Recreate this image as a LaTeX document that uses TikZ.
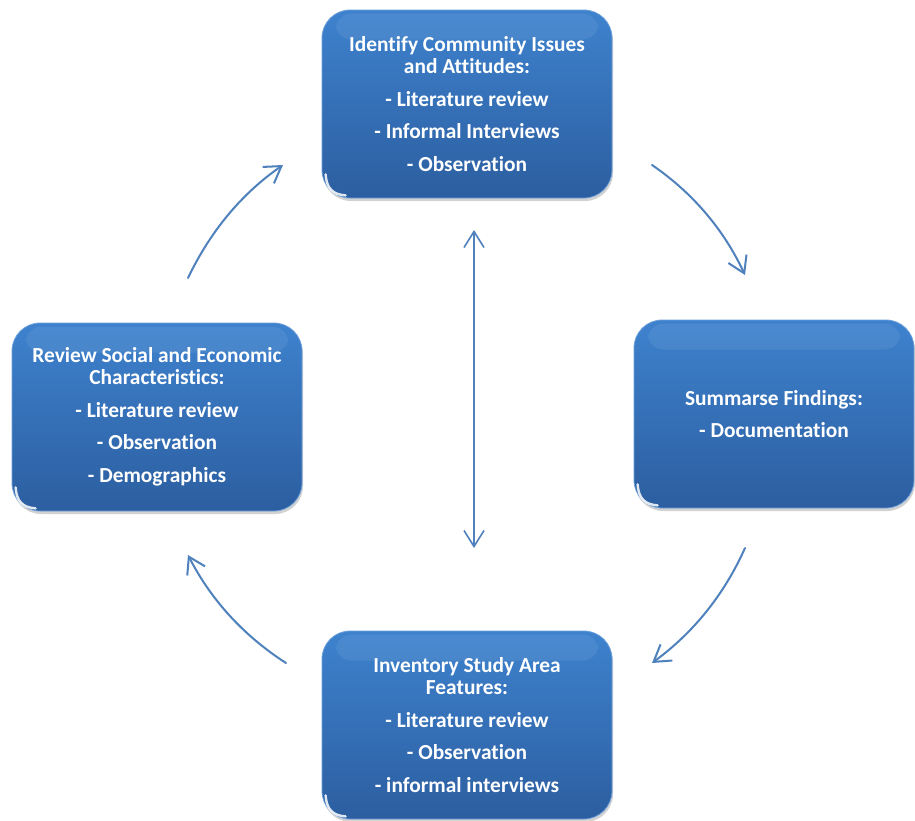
\documentclass[tikz,border=0pt]{standalone}
\usepackage{fontspec}
\setmainfont[Ligatures={NoCommon}]{Carlito}
\usetikzlibrary{arrows.meta,shadows,calc}
\definecolor{boxtop}{RGB}{62,130,206}
\definecolor{boxbot}{RGB}{44,94,160}
\definecolor{boxedge}{RGB}{110,160,220}
\definecolor{arrowblue}{RGB}{79,129,189}
\begin{document}
\begin{tikzpicture}[x=1pt,y=-1pt,
  stage/.style={rounded corners=28pt, minimum width=290pt, minimum height=188pt,
    top color=boxtop, bottom color=boxbot, draw=boxedge, line width=0.8pt,
    text=white, align=center, inner sep=0pt,
    font=\bfseries\fontsize{21.4}{22}\selectfont,
    drop shadow={opacity=0.35, shadow xshift=1pt, shadow yshift=-3pt}},
  shine/.style={white, opacity=0.07, rounded corners=16pt},
  glint/.style={white, opacity=0.85, line width=2.4pt, line cap=round},
  flow/.style={draw=arrowblue, line width=2pt, line cap=round,
    -{Straight Barb[length=16pt,width=20pt]}},
  link/.style={draw=arrowblue, line width=1.6pt,
    {Straight Barb[length=16pt,width=20pt]}-{Straight Barb[length=16pt,width=20pt]}}]

\useasboundingbox[fill=white] (0,0) rectangle (915,820);

% the four stages
\node[stage] (issues) at (467,104) {Identify Community Issues\\and Attitudes:\\[10.5pt]- Literature review\\[10.5pt]- Informal Interviews\\[10.5pt]- Observation};
\node[stage, minimum width=280pt] (summary) at (774,414) {Summarse Findings:\\[10.5pt]- Documentation};
\node[stage] (inventory) at (467,725) {Inventory Study Area\\Features:\\[10.5pt]- Literature review\\[10.5pt]- Observation\\[10.5pt]- informal interviews};
\node[stage] (social) at (157,417) {Review Social and Economic\\Characteristics:\\[10.5pt]- Literature review\\[10.5pt]- Observation\\[10.5pt]- Demographics};

% top shine and corner glint on each stage
\foreach \n in {issues,summary,inventory,social}{
  \fill[shine] ($(\n.north west)+(14,4)$) rectangle ($(\n.north east)+(-14,30)$);
  \draw[glint] ($(\n.south west)+(4,-24)$) .. controls ($(\n.south west)+(5,-10)$) and ($(\n.south west)+(11,-4)$) .. ($(\n.south west)+(24,-3)$);
}

% cycle arrows between the stages
\coordinate (c1s) at (188,278); \coordinate (c1e) at (283,165);
\coordinate (c2s) at (652,165); \coordinate (c2e) at (745,275);
\coordinate (c3s) at (745,548); \coordinate (c3e) at (652,663);
\coordinate (c4s) at (286,663); \coordinate (c4e) at (188,555);
\draw[flow] (c1s) .. controls (210,232) and (241,194) .. (c1e);
\draw[flow] (c2s) .. controls (693,193) and (724,230) .. (c2e);
\draw[flow] (c3s) .. controls (724,595) and (693,633) .. (c3e);
\draw[flow] (c4s) .. controls (244,636) and (211,600) .. (c4e);

% central two-way link
\coordinate (mt) at (474,230);
\coordinate (mb) at (474,548);
\draw[link] (mt) -- (mb);
\end{tikzpicture}
\end{document}
